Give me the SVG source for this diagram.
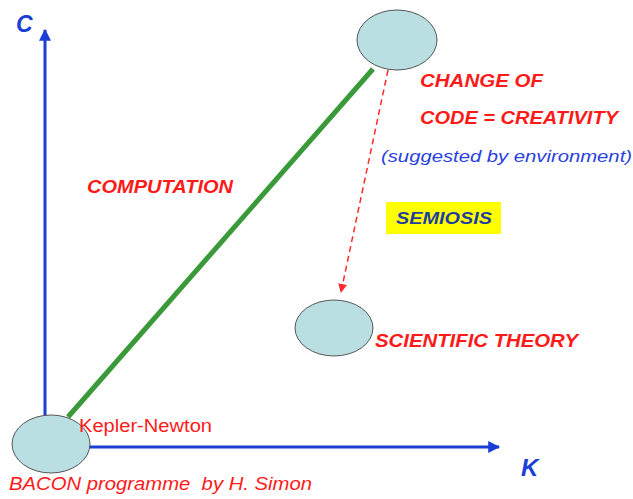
<svg xmlns="http://www.w3.org/2000/svg" width="633" height="499" viewBox="0 0 633 499">
<style>
.node{fill:#b9dfe3;stroke:#555;stroke-width:1}
.red{fill:#ff1a1a;font-family:"Liberation Sans",Arial,sans-serif}
.bi{font-weight:bold;font-style:italic}
.axis{stroke:#1a3fd6;stroke-width:3;fill:none}
.lbl{fill:#1a3fd6;font-family:"Liberation Sans",Arial,sans-serif;font-weight:bold;font-style:italic}
</style>
<defs>
<marker id="ah" viewBox="0 0 10 10" refX="9" refY="5" markerWidth="4" markerHeight="4" orient="auto" markerUnits="strokeWidth">
<path d="M0,0 L10,5 L0,10 z" fill="#1a3fd6"/>
</marker>
<marker id="ahr" viewBox="0 0 10 10" refX="9" refY="5" markerWidth="6" markerHeight="6" orient="auto" markerUnits="strokeWidth">
<path d="M0,0 L10,5 L0,10 z" fill="#ff2a2a"/>
</marker>
</defs>
<rect width="633" height="499" fill="#fff"/>
<g id="connectors">
<line class="axis" x1="45" y1="420" x2="45" y2="30" marker-end="url(#ah)"/>
<line class="axis" x1="85" y1="447" x2="499" y2="447" marker-end="url(#ah)"/>
<line x1="68" y1="417" x2="373" y2="69" stroke="#3a9a3a" stroke-width="5"/>
<line x1="388" y1="70" x2="341" y2="292" stroke="#ff2a2a" stroke-width="1.5" stroke-dasharray="6,4" marker-end="url(#ahr)"/>
</g>
<g id="node-origin">
<ellipse class="node" cx="51" cy="444" rx="39" ry="29"/>
<text class="red" x="79" y="432" font-size="18" textLength="133" lengthAdjust="spacingAndGlyphs">Kepler-Newton</text>
<text class="red" x="9" y="490" font-size="19" font-style="italic" textLength="303" lengthAdjust="spacingAndGlyphs" xml:space="preserve">BACON programme  by H. Simon</text>
</g>
<g id="node-top">
<ellipse class="node" cx="397" cy="40" rx="40" ry="30"/>
<text class="red bi" x="420" y="87" font-size="18" textLength="123" lengthAdjust="spacingAndGlyphs">CHANGE OF</text>
<text class="red bi" x="420" y="124" font-size="18" textLength="198" lengthAdjust="spacingAndGlyphs">CODE = CREATIVITY</text>
<text x="381" y="162" font-family="'Liberation Sans',Arial,sans-serif" font-size="16" font-style="italic" fill="#2a3fe0" textLength="251" lengthAdjust="spacingAndGlyphs">(suggested by environment)</text>
</g>
<g id="node-theory">
<ellipse class="node" cx="334" cy="328" rx="39" ry="28"/>
<text class="red bi" x="375" y="347" font-size="18" textLength="203" lengthAdjust="spacingAndGlyphs">SCIENTIFIC THEORY</text>
</g>
<g id="semiosis">
<rect x="386" y="202" width="115" height="32" fill="#ffff00"/>
<text x="396" y="224" font-family="'Liberation Sans',Arial,sans-serif" font-size="17" font-weight="bold" font-style="italic" fill="#1f3fa0" textLength="96" lengthAdjust="spacingAndGlyphs">SEMIOSIS</text>
</g>
<text class="red bi" x="87" y="193" font-size="18" textLength="146" lengthAdjust="spacingAndGlyphs">COMPUTATION</text>
<text class="lbl" x="16" y="32" font-size="23">C</text>
<text class="lbl" x="521" y="476" font-size="24">K</text>
</svg>
